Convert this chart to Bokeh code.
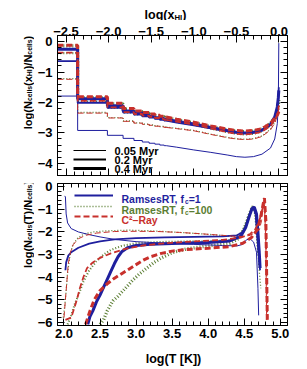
import numpy as np
from bokeh.plotting import figure
from bokeh.models import (Range1d, LinearAxis, FixedTicker, CustomJSTickFormatter,
                          Label, Legend, LegendItem)
from bokeh.layouts import column, row
from bokeh.embed import file_html
from bokeh.resources import INLINE

# ---------------- data: top panel (log x_HI histograms) ----------------
xhi_step = [-2.602, -2.125, -1.903, -1.757, -1.648, -1.561, -1.488, -1.426, -1.372, -1.323]
xhi_tail = [-1.323, -1.2, -1.0, -0.8, -0.6, -0.5, -0.4, -0.3, -0.2, -0.1, -0.05, -0.02, -0.008, -0.002]

rt1_005_step = [-1.79, -2.92, -3.08, -3.18, -3.25, -3.30, -3.34, -3.37, -3.40, -3.42]
rt1_005_tail = [-3.42, -3.47, -3.56, -3.64, -3.73, -3.78, -3.80, -3.78, -3.70, -3.50, -3.20, -2.70, -2.10, -0.05]
rt1_02_step = [-0.64, -2.01, -2.18, -2.33, -2.40, -2.46, -2.50, -2.54, -2.57, -2.60]
rt1_02_tail = [-2.60, -2.66, -2.75, -2.85, -2.95, -2.99, -3.01, -2.99, -2.92, -2.74, -2.52, -2.20, -1.85, -1.50]
rt1_04_step = [-0.25, -1.88, -2.11, -2.28, -2.35, -2.41, -2.46, -2.50, -2.53, -2.56]
rt1_04_tail = [-2.56, -2.62, -2.71, -2.82, -2.93, -2.98, -3.00, -2.98, -2.91, -2.72, -2.48, -2.15, -1.85, -1.60]

rt100_005_step = [-1.22, -2.33, -2.50, -2.61, -2.67, -2.71, -2.74, -2.77, -2.79, -2.81]
rt100_005_tail = [-2.81, -2.85, -2.92, -3.04, -3.15, -3.19, -3.21, -3.19, -3.10, -2.88, -2.65, -2.40, -2.20, -2.00]
rt100_02_step = [-0.38, -1.97, -2.17, -2.33, -2.39, -2.44, -2.48, -2.52, -2.55, -2.58]
rt100_02_tail = [-2.58, -2.64, -2.73, -2.86, -2.98, -3.03, -3.05, -3.03, -2.95, -2.76, -2.56, -2.35, -2.15, -1.95]
rt100_04_step = [-0.14, -1.84, -2.05, -2.22, -2.30, -2.35, -2.40, -2.44, -2.47, -2.50]
rt100_04_tail = [-2.50, -2.57, -2.67, -2.79, -2.90, -2.94, -2.96, -2.94, -2.87, -2.69, -2.50, -2.30, -2.10, -1.90]

c2r_005_step = [-1.24, -2.35, -2.51, -2.62, -2.68, -2.72, -2.75, -2.78, -2.80, -2.82]
c2r_005_tail = [-2.82, -2.86, -2.93, -3.05, -3.16, -3.20, -3.22, -3.20, -3.12, -2.90, -2.68, -2.45, -2.30, -2.20]
c2r_02_step = [-0.36, -1.95, -2.16, -2.32, -2.38, -2.43, -2.47, -2.51, -2.54, -2.57]
c2r_02_tail = [-2.57, -2.63, -2.72, -2.85, -2.98, -3.03, -3.05, -3.03, -2.96, -2.77, -2.58, -2.40, -2.25, -2.10]
c2r_04_step = [-0.12, -1.81, -2.03, -2.20, -2.28, -2.33, -2.38, -2.42, -2.45, -2.48]
c2r_04_tail = [-2.48, -2.55, -2.65, -2.77, -2.88, -2.92, -2.94, -2.92, -2.86, -2.68, -2.52, -2.42, -2.35, -2.30]

# ---------------- data: bottom panel (log T histograms) ----------------
rt1_005_T = [2.01, 2.02, 2.03, 2.05, 2.1, 2.2, 2.35, 2.5, 2.7, 3.0, 3.4, 3.8, 4.2, 4.4, 4.48, 4.53, 4.58, 4.63, 4.67, 4.69, 4.70]
rt1_005_N = [-0.4, -0.45, -1.2, -1.6, -1.85, -2.0, -2.12, -2.22, -2.33, -2.43, -2.5, -2.55, -2.6, -2.62, -2.55, -2.35, -2.3, -2.45, -2.9, -4.5, -5.7]
rt1_02_T = [2.02, 2.03, 2.06, 2.1, 2.2, 2.35, 2.5, 2.7, 3.0, 3.4, 3.8, 4.2, 4.4, 4.48, 4.53, 4.57, 4.6, 4.63, 4.66, 4.68, 4.70, 4.72]
rt1_02_N = [-3.7, -3.35, -3.05, -2.9, -2.7, -2.52, -2.42, -2.33, -2.27, -2.24, -2.22, -2.2, -2.15, -2.0, -1.7, -1.3, -1.0, -0.95, -1.25, -2.2, -3.0, -3.7]
rt1_04_T = [2.33, 2.36, 2.4, 2.45, 2.5, 2.55, 2.6, 2.65, 2.7, 2.75, 2.8, 2.88, 3.0, 3.2, 3.6, 4.0, 4.3, 4.45, 4.52, 4.57, 4.61, 4.64, 4.67, 4.69, 4.71, 4.72]
rt1_04_N = [-6.1, -5.75, -5.5, -5.1, -4.8, -4.45, -4.1, -3.75, -3.4, -3.1, -2.88, -2.7, -2.6, -2.55, -2.5, -2.47, -2.4, -2.2, -1.8, -1.3, -0.95, -0.9, -1.2, -2.0, -3.0, -3.6]

rt100_005_T = [1.99, 2.01, 2.03, 2.05, 2.08, 2.12, 2.18, 2.27, 2.4, 2.6, 2.9, 3.2, 3.5, 3.8, 4.1, 4.35, 4.45, 4.52, 4.57, 4.61, 4.64, 4.67, 4.69, 4.71, 4.73]
rt100_005_N = [-5.8, -5.3, -4.6, -3.8, -3.1, -2.6, -2.3, -2.1, -2.0, -1.95, -1.92, -1.95, -2.0, -2.06, -2.13, -2.2, -2.05, -1.6, -1.15, -0.85, -0.9, -1.4, -2.6, -3.8, -4.5]
rt100_02_T = [2.05, 2.1, 2.15, 2.2, 2.27, 2.35, 2.45, 2.55, 2.65, 2.8, 3.0, 3.3, 3.7, 4.1, 4.35, 4.45, 4.52, 4.57, 4.61, 4.64, 4.67, 4.69, 4.71]
rt100_02_N = [-6.1, -5.7, -5.2, -4.8, -4.2, -3.7, -3.3, -3.0, -2.8, -2.62, -2.5, -2.45, -2.42, -2.4, -2.35, -2.15, -1.7, -1.2, -0.9, -0.95, -1.5, -2.6, -3.5]
rt100_04_T = [2.5, 2.55, 2.6, 2.68, 2.75, 2.85, 2.95, 3.05, 3.15, 3.25, 3.35, 3.5, 3.7, 4.0, 4.3, 4.42, 4.5, 4.55, 4.6, 4.63, 4.66, 4.68, 4.70]
rt100_04_N = [-6.1, -5.9, -5.5, -5.05, -4.85, -4.5, -4.15, -3.85, -3.6, -3.35, -3.15, -2.92, -2.75, -2.62, -2.5, -2.3, -1.9, -1.4, -1.0, -0.9, -1.2, -2.0, -3.0]

c2r_005_T = [2.0, 2.02, 2.04, 2.06, 2.09, 2.13, 2.2, 2.3, 2.45, 2.7, 3.0, 3.3, 3.6, 3.9, 4.2, 4.4, 4.5, 4.58, 4.64, 4.68, 4.71, 4.74, 4.76, 4.78, 4.80, 4.81]
c2r_005_N = [-5.8, -5.0, -4.2, -3.4, -2.9, -2.55, -2.3, -2.15, -2.05, -1.98, -1.97, -1.98, -2.02, -2.08, -2.15, -2.2, -2.2, -2.15, -2.05, -1.95, -1.9, -1.5, -0.9, -0.8, -2.5, -5.8]
c2r_02_T = [2.02, 2.1, 2.17, 2.22, 2.27, 2.32, 2.4, 2.5, 2.65, 2.85, 3.1, 3.4, 3.8, 4.2, 4.45, 4.58, 4.66, 4.71, 4.75, 4.78, 4.80, 4.82]
c2r_02_N = [-5.9, -5.8, -5.1, -4.5, -4.0, -3.6, -3.35, -3.15, -2.95, -2.75, -2.6, -2.5, -2.42, -2.35, -2.25, -2.1, -1.85, -1.5, -1.0, -0.65, -2.0, -5.8]
c2r_04_T = [2.3, 2.35, 2.42, 2.5, 2.6, 2.7, 2.8, 2.9, 3.0, 3.1, 3.2, 3.35, 3.5, 3.7, 4.0, 4.3, 4.48, 4.6, 4.68, 4.73, 4.76, 4.78, 4.80, 4.82]
c2r_04_N = [-6.1, -5.6, -5.0, -4.6, -4.3, -4.05, -3.85, -3.65, -3.45, -3.25, -3.1, -2.95, -2.85, -2.78, -2.72, -2.65, -2.5, -2.25, -1.9, -1.3, -0.8, -0.5, -1.5, -5.9]

# tick labels / legend texts
time_labels = ["0.05 Myr", "0.2 Myr", "0.4 Myr"]
top_xticks = [-2.5, -2.0, -1.5, -1.0, -0.5, 0.0]
top_yticks = [0, -1, -2, -3, -4]
bot_xticks = [2.0, 2.5, 3.0, 3.5, 4.0, 4.5, 5.0]
bot_yticks = [0, -1, -2, -3, -4, -5, -6]

FONT = "Liberation Sans"
BLUE = "#1f1f9e"
GREEN = "#5b7e33"
RED = "#c8302c"
WIDTHS = [1.0, 1.8, 3.0]
GREEN_DASH = "1 2"
RED_DASH = "6 3"

# Arial-Bold compatible advance widths (per 1000 em)
W = {" ": 278, "(": 333, ")": 333, ",": 278, "-": 333, ".": 278, "/": 278, "=": 584,
     "[": 333, "]": 333, "C": 722, "H": 722, "I": 278, "K": 722, "M": 833, "N": 722,
     "R": 722, "T": 611, "a": 556, "c": 556, "e": 556, "f": 333, "g": 611, "l": 278,
     "m": 889, "o": 611, "r": 389, "s": 556, "x": 556, "y": 556, "\u00b2": 333, "\u2013": 556}


def tw(s, size):
    return sum(W.get(c, 556) for c in s) * size / 1000.0


def pieces_width(pieces, size):
    return sum(tw(t, size * 0.62 if sub else size) for t, sub in pieces)


def rich_label(p, pieces, x, y, size, color="black", vertical=False, drop=0.22):
    off = 0.0
    for text, sub in pieces:
        fs = size * 0.62 if sub else size
        dy = -drop * size if sub else 0.0
        kw = dict(x_units="screen", y_units="screen", text=text, text_font=FONT,
                  text_font_style="bold", text_font_size=f"{fs:.2f}px", text_color=color,
                  text_align="left", text_baseline="alphabetic")
        if vertical:
            lab = Label(x=x - dy, y=y + off, angle=np.pi / 2, **kw)
        else:
            lab = Label(x=x + off, y=y + dy, **kw)
        p.add_layout(lab)
        off += tw(text, fs)


def style_axis(ax, major, minor, fmt, show_labels):
    ax.ticker = FixedTicker(ticks=major, minor_ticks=minor)
    ax.major_tick_in = 7
    ax.major_tick_out = 0
    ax.minor_tick_in = 4
    ax.minor_tick_out = 0
    ax.major_tick_line_color = "black"
    ax.minor_tick_line_color = "black"
    ax.axis_line_color = "black"
    ax.axis_label = None
    if show_labels:
        ax.formatter = CustomJSTickFormatter(code=f"return tick.toFixed({fmt}).replace('-', '\\u2212');")
        ax.major_label_text_font = FONT
        ax.major_label_text_font_style = "bold"
        ax.major_label_text_font_size = "13px"
        ax.major_label_text_color = "black"
    else:
        ax.formatter = CustomJSTickFormatter(code="return '';")
        ax.major_label_standoff = 0


def make_fig(xr, yr, h, top_b, bot_b, xloc):
    p = figure(width=266, height=h, x_range=Range1d(*xr), y_range=Range1d(*yr), title=None,
               output_backend="svg", toolbar_location=None, x_axis_location=xloc,
               min_border_left=22, min_border_right=13, min_border_top=top_b,
               min_border_bottom=bot_b, background_fill_color="white",
               border_fill_color="white")
    p.xgrid.visible = False
    p.ygrid.visible = False
    p.outline_line_color = "black"
    return p


def text_fig(w, h):
    f = figure(width=w, height=h, x_range=Range1d(0, w), y_range=Range1d(0, h), title=None,
               output_backend="svg", toolbar_location=None, x_axis_type=None,
               y_axis_type=None, min_border=0, min_border_left=0, min_border_right=0,
               min_border_top=0, min_border_bottom=0, background_fill_color="white",
               border_fill_color="white")
    f.outline_line_color = None
    return f


def line_key(p, x0, ly, glyph_w, renderer):
    lg = Legend(items=[LegendItem(label=" ", renderers=[renderer])], location=(x0, ly - 5),
                glyph_width=glyph_w, glyph_height=10, label_height=10, label_width=0,
                label_standoff=0, padding=0, margin=0, spacing=0,
                background_fill_alpha=0, border_line_alpha=0, label_text_font_size="1px")
    p.add_layout(lg)


# ---------------- top panel ----------------
p1 = make_fig((-2.6, 0.1), (-4.4, 0.2), 159, 15, 4, "above")
tx_minor = list(np.round(np.arange(-2.6, 0.105, 0.1), 2))
ty_minor = list(np.round(np.arange(-4.4, 0.205, 0.2), 2))
style_axis(p1.xaxis[0], top_xticks, tx_minor, 1, True)
p1.xaxis[0].major_label_standoff = 0
style_axis(p1.yaxis[0], top_yticks, ty_minor, 0, True)
p1.yaxis[0].major_label_standoff = 5
ax = LinearAxis(); style_axis(ax, top_xticks, tx_minor, 1, False); p1.add_layout(ax, "below")
ax = LinearAxis(); style_axis(ax, top_yticks, ty_minor, 0, False); p1.add_layout(ax, "right")

top_series = [
    (GREEN, GREEN_DASH, [rt100_005_step, rt100_02_step, rt100_04_step], [rt100_005_tail, rt100_02_tail, rt100_04_tail]),
    (BLUE, "solid", [rt1_005_step, rt1_02_step, rt1_04_step], [rt1_005_tail, rt1_02_tail, rt1_04_tail]),
    (RED, RED_DASH, [c2r_005_step, c2r_02_step, c2r_04_step], [c2r_005_tail, c2r_02_tail, c2r_04_tail]),
]
for color, dash, steps, tails in top_series:
    for ys, yt, w in zip(steps, tails, WIDTHS):
        gw = w + 0.3 if color == GREEN else w
        p1.step(xhi_step, ys, mode="center", line_color=color, line_width=gw, line_dash=dash)
        p1.line(xhi_tail, yt, line_color=color, line_width=gw, line_dash=dash)

# time legend (line widths)
for lbl, w, ly in zip(time_labels, WIDTHS, [25, 16, 7]):
    r = p1.line(x=[np.nan], y=[np.nan], line_color="black", line_width=w)
    line_key(p1, 16, ly, 33, r)
    p1.add_layout(Label(x=57, y=ly, x_units="screen", y_units="screen", text=lbl,
                        text_font=FONT, text_font_style="bold", text_font_size="11px",
                        text_color="black", text_baseline="middle", text_align="left"))

# ---------------- bottom panel ----------------
p2 = make_fig((1.91, 5.1), (-6.15, 0.15), 165, 4, 19, "below")
bx_minor = list(np.round(np.arange(1.9, 5.105, 0.1), 2))
by_minor = list(np.round(np.arange(-6.2, 0.205, 0.2), 2))
style_axis(p2.xaxis[0], bot_xticks, bx_minor, 1, True)
p2.xaxis[0].major_label_standoff = 3
style_axis(p2.yaxis[0], bot_yticks, by_minor, 0, True)
p2.yaxis[0].major_label_standoff = 5
ax = LinearAxis(); style_axis(ax, bot_xticks, bx_minor, 1, False); p2.add_layout(ax, "above")
ax = LinearAxis(); style_axis(ax, bot_yticks, by_minor, 0, False); p2.add_layout(ax, "right")

bot_series = [
    (GREEN, GREEN_DASH, [(rt100_005_T, rt100_005_N), (rt100_02_T, rt100_02_N), (rt100_04_T, rt100_04_N)]),
    (BLUE, "solid", [(rt1_005_T, rt1_005_N), (rt1_02_T, rt1_02_N), (rt1_04_T, rt1_04_N)]),
    (RED, RED_DASH, [(c2r_005_T, c2r_005_N), (c2r_02_T, c2r_02_N), (c2r_04_T, c2r_04_N)]),
]
for color, dash, curves in bot_series:
    for (xs, ys), w in zip(curves, WIDTHS):
        gw = w + 0.3 if color == GREEN else w
        p2.line(xs, ys, line_color=color, line_width=gw, line_dash=dash)

# model legend
leg_specs = [
    (BLUE, "solid", 1.8, [("RamsesRT, f", False), ("c", True), ("=1", False)], 130.3),
    (GREEN, GREEN_DASH, 1.6, [("RamsesRT, f", False), ("c", True), ("=100", False)], 119.3),
    (RED, RED_DASH, 1.8, [("C\u00b2\u2013Ray", False)], 109.3),
]
for color, dash, w, pieces, ly in leg_specs:
    r = p2.line(x=[np.nan], y=[np.nan], line_color=color, line_width=w, line_dash=dash)
    line_key(p2, 17, ly, 39, r)
    rich_label(p2, pieces, 64, ly - 3.8, 10.5, color=color)

# ---------------- axis titles (own small canvases) ----------------
xtitle_top = [("log(x", False), ("HI", True), (")", False)]
xtitle_bot = [("log(T [K])", False)]
ytitle_top = [("log(N", False), ("cells", True), ("(x", False), ("HI", True), (")/N", False),
              ("cells", True), (")", False)]
ytitle_bot = [("log(N", False), ("cells", True), ("(T)/N", False), ("cells", True), (")", False)]

t_top = text_fig(300, 20)
rich_label(t_top, xtitle_top, 165 - pieces_width(xtitle_top, 12.5) / 2, 6, 12.5, drop=0.2)
y_top = text_fig(34, 159)
rich_label(y_top, ytitle_top, 27, 93 - pieces_width(ytitle_top, 11) / 2, 11, vertical=True)
y_bot = text_fig(34, 165)
rich_label(y_bot, ytitle_bot, 27, 101 - pieces_width(ytitle_bot, 11) / 2, 11, vertical=True)
t_bot = text_fig(300, 23)
rich_label(t_bot, xtitle_bot, 173 - pieces_width(xtitle_bot, 12.5) / 2, 9, 12.5)

layout = column(t_top, row(y_top, p1, spacing=0), row(y_bot, p2, spacing=0), t_bot, spacing=0)
open("out.html", "w").write(file_html(layout, INLINE))
